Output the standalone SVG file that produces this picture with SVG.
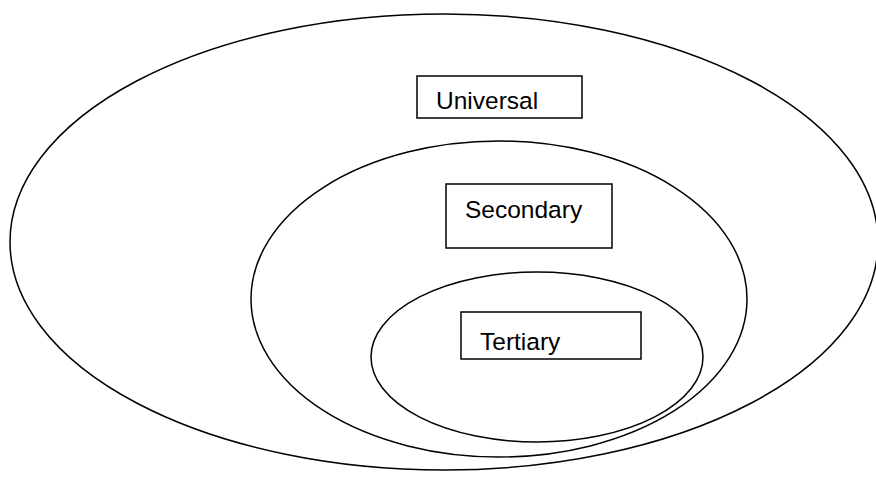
<svg xmlns="http://www.w3.org/2000/svg" width="876" height="481" viewBox="0 0 876 481">
<style>
.e{fill:none;stroke:#000;stroke-width:1.5}
.b{fill:#fff;stroke:#000;stroke-width:1.5}
.t{font-family:"Liberation Sans",Arial,sans-serif;font-size:24.5px;fill:#000}
</style>
<rect width="876" height="481" fill="#fff"/>
<g id="universal">
<ellipse class="e" cx="444" cy="242" rx="434" ry="228"/>
<rect class="b" x="417" y="76" width="165" height="42"/>
<text class="t" x="436" y="109">Universal</text>
</g>
<g id="secondary">
<ellipse class="e" cx="499" cy="299" rx="248" ry="158"/>
<rect class="b" x="446" y="184" width="166" height="64"/>
<text class="t" x="465" y="218">Secondary</text>
</g>
<g id="tertiary">
<ellipse class="e" cx="537" cy="357" rx="166" ry="85"/>
<rect class="b" x="461" y="312" width="180" height="47"/>
<text class="t" x="480" y="350">Tertiary</text>
</g>
<g id="connectors"></g>
</svg>
